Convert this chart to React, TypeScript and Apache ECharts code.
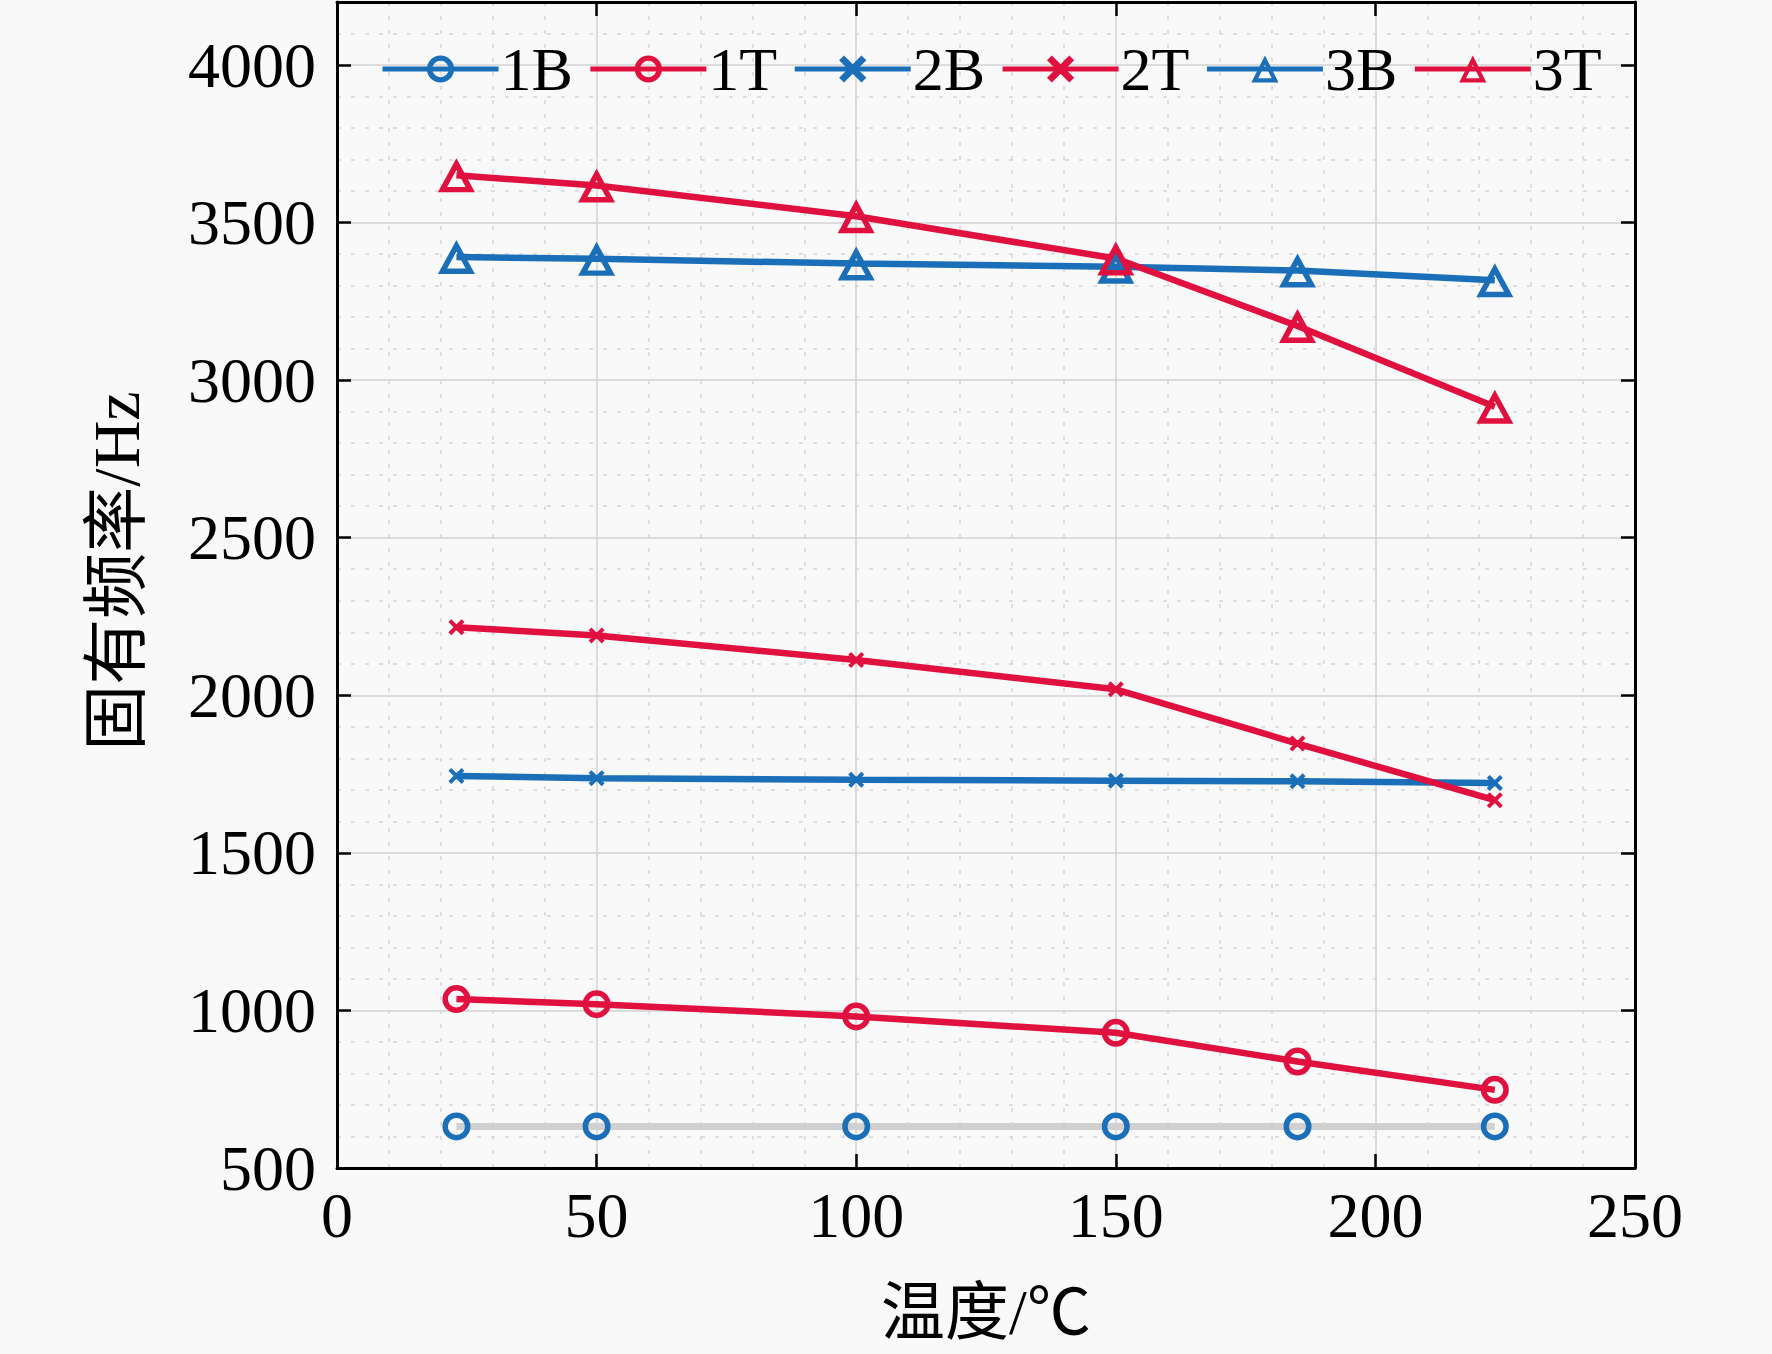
import React, { useEffect, useRef } from "react";
import * as echarts from "echarts";

const temps = [23, 50, 100, 150, 185, 223];
const f1B = [632, 632, 632, 632, 632, 632];
const f1T = [1036, 1020, 981, 929, 838, 748];
const f2B = [1744, 1737, 1732, 1729, 1727, 1722];
const f2T = [2216, 2190, 2112, 2019, 1847, 1667];
const f3B = [3391, 3385, 3370, 3360, 3348, 3317];
const f3T = [3650, 3618, 3520, 3386, 3172, 2916];
const seriesNames = ["1B", "1T", "2B", "2T", "3B", "3T"];

const BLUE = "#1a6fb8";
const RED = "#e0103f";
const FONT = "'Liberation Serif', 'Times New Roman', 'Noto Sans CJK SC', serif";

// hollow marker outlines drawn as filled rings (outer contour + reversed inner contour)
const RING =
  "path://M0,14A14,14 0 1,1 28,14A14,14 0 1,1 0,14ZM5.5,14A8.5,8.5 0 1,0 22.5,14A8.5,8.5 0 1,0 5.5,14Z";
const TRI = "path://M16,0L32,30L0,30ZM16,10.2L8,25.2L24,25.2Z";
const XMARK = "path://M0,2.5L2.5,0L14,11.5L11.5,14ZM11.5,0L14,2.5L2.5,14L0,11.5Z";

function pairs(ys: number[]) {
  return temps.map((t, i) => [t, ys[i]]);
}

export default function App() {
  const ref = useRef<HTMLDivElement>(null);
  useEffect(() => {
    if (!ref.current) return;
    const chart = echarts.init(ref.current, undefined, { renderer: "svg" });

    const axisLine = { show: true, onZero: false, lineStyle: { color: "#000", width: 3 } };
    const axisTick = { show: true, inside: true, length: 14, lineStyle: { color: "#000", width: 2.5 } };
    const splitLine = { show: true, lineStyle: { color: "#d2d2d2", width: 1.5 } };
    const minorSplitLine = { show: true, lineStyle: { color: "#d6d6d6", width: 1.5, type: [4, 10] } };
    const label = { color: "#000", fontSize: 64, fontFamily: FONT };

    const line = (
      name: string,
      ys: number[],
      color: string,
      symbol: string,
      size: number | number[],
      lineColor: string,
      lineWidth: number
    ) => ({
      name,
      type: "line",
      data: pairs(ys),
      symbol,
      symbolSize: size,
      showSymbol: true,
      lineStyle: { color: lineColor, width: lineWidth },
      itemStyle: { color, borderWidth: 0, opacity: 1 },
      z: 3,
    });

    chart.setOption({
      animation: false,
      backgroundColor: "#f9f9f9",
      grid: { left: 337, right: 137, top: 2, bottom: 186, show: false, containLabel: false, outerBoundsMode: "none" },
      legend: {
        show: true,
        left: 375,
        top: 33,
        orient: "horizontal",
        itemWidth: 116,
        itemHeight: 34,
        itemGap: 15,
        lineStyle: { width: 5 },
        itemStyle: { borderWidth: 0 },
        textStyle: { color: "#000", fontSize: 62, fontFamily: FONT, padding: [0, 0, 0, -3] },
        data: [
          { name: "1B", lineStyle: { color: BLUE, width: 5 } },
          { name: "1T" },
          { name: "2B" },
          { name: "2T" },
          { name: "3B" },
          { name: "3T" },
        ],
      },
      xAxis: [
        {
          type: "value",
          position: "bottom",
          min: 0,
          max: 250,
          interval: 50,
          axisLine,
          axisTick,
          splitLine,
          minorTick: { show: false, splitNumber: 5 },
          minorSplitLine,
          axisLabel: { ...label, margin: 15, formatter: (v: number) => String(v) },
          name: "温度/℃",
          nameLocation: "middle",
          nameGap: 112,
          nameTextStyle: { ...label },
        },
        {
          type: "value",
          position: "top",
          min: 0,
          max: 250,
          interval: 50,
          axisLine,
          axisTick,
          splitLine: { show: false },
          axisLabel: { show: false },
        },
      ],
      yAxis: [
        {
          type: "value",
          position: "left",
          min: 500,
          max: 4200,
          interval: 500,
          axisLine,
          axisTick,
          splitLine,
          minorTick: { show: false, splitNumber: 5 },
          minorSplitLine,
          axisLabel: { ...label, margin: 21, formatter: (v: number) => String(v) },
          name: "固有频率/Hz",
          nameLocation: "middle",
          nameGap: 188,
          nameTextStyle: { ...label, fontSize: 66, padding: [0, 0, 0, 28] },
        },
        {
          type: "value",
          position: "right",
          min: 500,
          max: 4200,
          interval: 500,
          axisLine,
          axisTick,
          splitLine: { show: false },
          axisLabel: { show: false },
        },
      ],
      series: [
        line(seriesNames[0], f1B, BLUE, RING, 28, "#d0d0d0", 7),
        line(seriesNames[1], f1T, RED, RING, 28, RED, 6.5),
        line(seriesNames[2], f2B, BLUE, XMARK, 16, BLUE, 6.5),
        line(seriesNames[3], f2T, RED, XMARK, 16, RED, 6.5),
        line(seriesNames[4], f3B, BLUE, TRI, [37, 34], BLUE, 6.5),
        line(seriesNames[5], f3T, RED, TRI, [37, 34], RED, 6.5),
      ],
    });
    return () => chart.dispose();
  }, []);
  return (
    <div
      ref={ref}
      style={{ position: "absolute", left: 0, top: 0, width: 1772, height: 1354 }}
    />
  );
}
